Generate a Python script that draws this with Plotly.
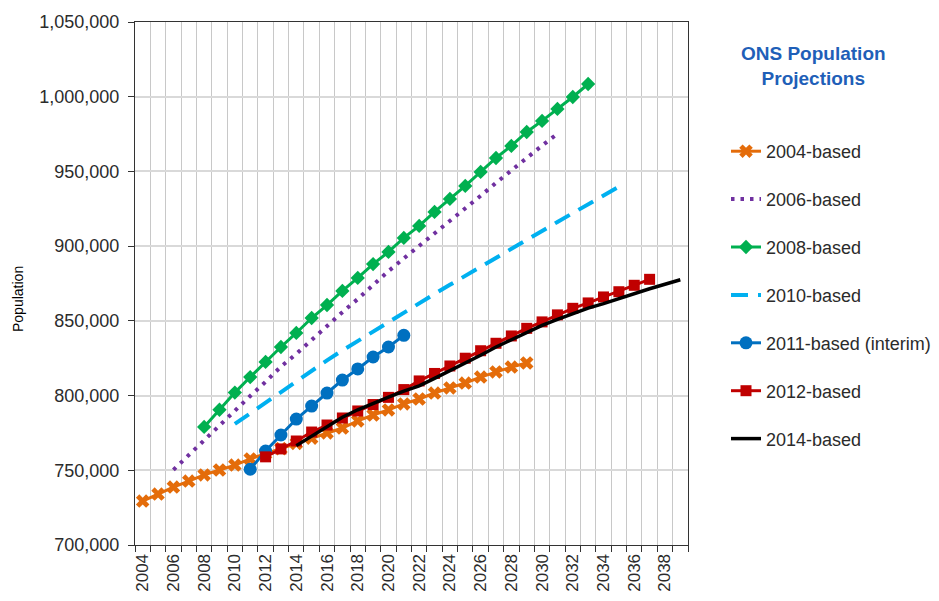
import plotly.graph_objects as go

# ---- data ----
years_2004 = list(range(2004, 2030))
pop_2004 = [729400, 734100, 738800, 742800, 746900, 750200, 753500, 757600,
            761000, 764500, 768000, 771500, 775000, 778300, 783000, 787000,
            790400, 794400, 797700, 801700, 805100, 808400, 812400, 815800,
            819100, 821800]

years_2006 = list(range(2006, 2032))
pop_2006 = [750300, 760200, 770100, 780000, 790400, 799700, 809200, 819400,
            827900, 837300, 846000, 855800, 864600, 874200, 883300, 891800,
            900100, 908000, 916500, 924600, 933700, 942300, 950900, 959000,
            967300, 975200]

years_2008 = list(range(2008, 2034))
pop_2008 = [779000, 790500, 802000, 812400, 822500, 832500, 841900, 851900,
            860600, 870000, 878700, 888000, 896100, 905500, 913500, 922900,
            931600, 940300, 949700, 959000, 967100, 976400, 983800, 991800,
            999800, 1008500]

years_2010 = list(range(2010, 2036))
pop_2010 = [781000, 788200, 795300, 802400, 809500, 816600, 823600, 830200,
            836600, 843000, 849300, 855600, 861900, 868000, 874100, 880200,
            886300, 892300, 898300, 904300, 910300, 916200, 922100, 928000,
            933900, 939800]

years_2011 = list(range(2011, 2022))
pop_2011 = [750700, 762900, 773600, 784300, 793000, 801700, 810400, 817800,
            825800, 832500, 840300]

years_2012 = list(range(2012, 2038))
pop_2012 = [759000, 764300, 769600, 775600, 780300, 785000, 789700, 794000,
            798800, 804000, 809800, 814800, 819800, 825000, 830000, 835000,
            839900, 845000, 849300, 854000, 858400, 862000, 866000, 869500,
            873800, 877800]

years_2014 = list(range(2014, 2040))
pop_2014 = [766500, 773000, 779500, 785500, 790500, 795000, 799000, 803000,
            806500, 811500, 816500, 821500, 827000, 832500, 837500, 842500,
            847000, 851000, 855000, 858500, 861500, 865000, 868500, 871500,
            874500, 877500]

x_tick_years = list(range(2004, 2039, 2))
x_tick_labels = [str(y) for y in x_tick_years]
y_tick_values = list(range(700000, 1050001, 50000))

FONT = "Liberation Sans, Arial, sans-serif"
TXT = "#2b2b2b"

# plot-area geometry (pixels)
L, R, T, B = 135, 688, 22, 545
W, H = R - L, B - T

def px_x(x):
    return (x - L) / W

def px_y(y):
    return (B - y) / H

fig = go.Figure()

def add(name, xs, ys, color, symbol=None, msize=10, dash="solid", width=3):
    mode = "lines+markers" if symbol else "lines"
    kw = dict(x=xs, y=ys, name=name, mode=mode, legendgroup=name,
              line=dict(color=color, width=width, dash=dash))
    if symbol:
        kw["marker"] = dict(symbol=symbol, size=msize, color=color,
                            line=dict(width=0))
    fig.add_trace(go.Scatter(**kw))

add("2004-based", years_2004, pop_2004, "#E46C0A", symbol="x", msize=12)
add("2006-based", years_2006, pop_2006, "#7030A0", dash="3.5px,6px", width=4)
add("2008-based", years_2008, pop_2008, "#00B050", symbol="diamond", msize=11)
add("2010-based", years_2010, pop_2010, "#00B0F0", dash="17px,10px", width=4)
add("2011-based (interim)", years_2011, pop_2011, "#0070C0", symbol="circle", msize=13)
add("2012-based", years_2012, pop_2012, "#C00000", symbol="square", msize=11)
add("2014-based", years_2014, pop_2014, "#000000", width=3.5)

fig.update_layout(
    width=939, height=601,
    margin=dict(l=L, r=939 - R, t=T, b=601 - B, autoexpand=False),
    paper_bgcolor="white", plot_bgcolor="white",
    font=dict(family=FONT, size=18, color=TXT),
    showlegend=True,
    legend=dict(x=px_x(726), xanchor="left", y=px_y(133), yanchor="top",
                font=dict(family=FONT, size=18, color=TXT),
                tracegroupgap=21.5, bgcolor="rgba(0,0,0,0)"),
    annotations=[
        dict(text="<b>ONS Population<br>Projections</b>",
             x=px_x(813), y=px_y(66), xref="paper", yref="paper",
             xanchor="center", yanchor="middle",
             showarrow=False, align="center",
             font=dict(family=FONT, size=19, color="#1F5FB8")),
        dict(text="Population", textangle=-90, x=px_x(18), y=px_y(299),
             xref="paper", yref="paper", xanchor="center", yanchor="middle",
             showarrow=False,
             font=dict(family=FONT, size=14, color="#000000")),
    ],
)

fig.update_xaxes(
    range=[2003.5, 2039.5],
    tickmode="array", tickvals=x_tick_years, ticktext=x_tick_labels,
    tickangle=-90, ticks="", showgrid=False,
    tickfont=dict(family=FONT, size=17, color=TXT),
    ticklabelstandoff=1,
    minor=dict(tick0=2003.5, dtick=1, ticks="outside", ticklen=6,
               tickcolor="#333333", showgrid=True, gridcolor="#C8C8C8",
               gridwidth=1),
    showline=True, linecolor="#333333", linewidth=1.3, mirror=True,
    zeroline=False, automargin=False,
)
fig.update_yaxes(
    range=[700000, 1050000], tickmode="array", tickvals=y_tick_values,
    tickformat=",d", ticks="outside", ticklen=6, tickcolor="#333333",
    tickfont=dict(family=FONT, size=18, color=TXT),
    ticklabelstandoff=5,
    showgrid=True, gridcolor="#D9D9D9", gridwidth=1.5,
    showline=True, linecolor="#333333", linewidth=1.3, mirror=True,
    zeroline=False, automargin=False,
)

fig.write_html(
    "out.html",
    config={"displayModeBar": False},
    post_script="document.body.style.margin='0';document.body.style.padding='0';",
)
